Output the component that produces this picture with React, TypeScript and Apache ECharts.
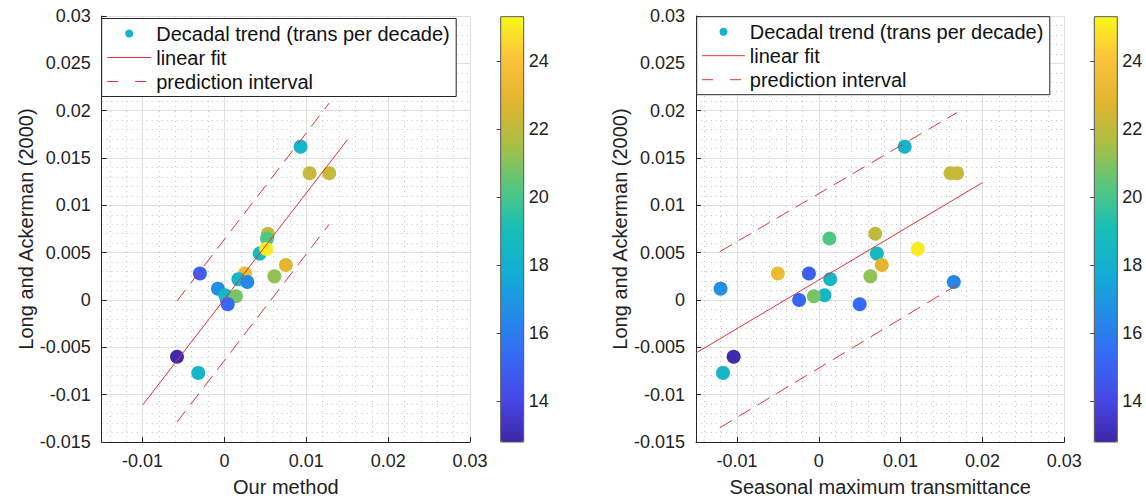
import React, { useEffect, useRef } from "react";
import * as echarts from "echarts";

// ---- data ----
const seriesNames = ["Decadal trend (trans per decade)", "linear fit", "prediction interval"];
const xNames = ["Our method", "Seasonal maximum transmittance"];
const yName = "Long and Ackerman (2000)";

// Long and Ackerman (2000) trends (y, shared by both panels)
const yLongAckerman = [0.0, 0.0028, 0.007, 0.0065, 0.0049, 0.0054, 0.0012, 0.0005, 0.0004, -0.00045, 0.0022, 0.0019, 0.0162, 0.0134, 0.0134, 0.0037, 0.0025, 0.0028, -0.006, -0.0077];
// x values, left panel (our method)
const xOurMethod = [0.0003, 0.0025, 0.0053, 0.0052, 0.0043, 0.0051, -0.0008, 0.0001, 0.0014, 0.0004, 0.0017, 0.0028, 0.0093, 0.0104, 0.0128, 0.0075, 0.0061, -0.003, -0.0058, -0.0032];
// x values, right panel (seasonal maximum transmittance)
const xSeasonalMax = [-0.0024, -0.005, 0.0069, 0.0013, 0.0071, 0.0121, -0.012, 0.0007, -0.0006, 0.005, 0.0014, 0.0165, 0.0105, 0.0161, 0.0169, 0.0077, 0.0063, -0.0012, -0.0104, -0.0117];
// colour values (colorbar)
const colorValue = [15.2, 23.3, 22.0, 20.2, 18.6, 25.0, 16.7, 18.4, 20.8, 15.3, 18.4, 16.4, 18.3, 22.2, 22.2, 22.9, 21.2, 14.9, 12.9, 18.4];

// linear fit & prediction interval end points, left panel
const fitOurX = [-0.01, 0.015];
const fitOurY = [-0.0111, 0.0169];
const piOurX = [-0.0058, 0.0128];
const piOurUpper = [-0.0001, 0.0208];
const piOurLower = [-0.0129, 0.008];

// right panel
const fitSeasX = [-0.015, 0.02];
const fitSeasY = [-0.0056, 0.0124];
const piSeasX = [-0.0121, 0.0169];
const piSeasUpper = [0.0051, 0.0198];
const piSeasLower = [-0.0135, 0.0016];

// colorbar
const cbMin = 12.8;
const cbMax = 25.3;
const cbTicks = [14, 16, 18, 20, 22, 24];
const parula = ["#3E26A8", "#4648E6", "#3669F6", "#228CE6", "#12AED4", "#18BFB6", "#55C77F", "#AABE45", "#E2B52E", "#FCC23B", "#F8F818"];

const FONT = "'Liberation Sans', Arial, Helvetica, sans-serif";
const RED = "#E0303C";
const AXIS = "#262626";

function pairs(xs: number[], ys: number[]) {
  return xs.map((x, i) => [x, ys[i]]);
}

export default function App() {
  const ref = useRef<HTMLDivElement>(null);
  useEffect(() => {
    if (!ref.current) return;
    const chart = echarts.init(ref.current, undefined, { renderer: "svg" });

    const plotLefts = [101.7, 696];
    const plotWidth = 368.3;
    const cbLefts = [500.7, 1094.3];

    const grids: any[] = [];
    const xAxes: any[] = [];
    const yAxes: any[] = [];
    const majorGrid = { show: true, lineStyle: { color: "#e0e0e0", width: 1 } };
    const minorGrid = { show: true, lineStyle: { color: "#c6c6c6", type: [1, 4], width: 1 } };
    [0, 1].forEach((i) => {
      grids.push({ left: plotLefts[i], top: 16, width: plotWidth, height: 426, outerBoundsMode: "none", containLabel: false });
      xAxes.push({
        type: "value",
        gridIndex: i,
        min: -0.015,
        max: 0.03,
        splitNumber: 5,
        name: xNames[i],
        nameLocation: "middle",
        nameGap: 35,
        nameTextStyle: { fontSize: 20, color: "#222", fontFamily: FONT },
        axisLine: { show: true, onZero: false, lineStyle: { color: AXIS, width: 1 } },
        axisTick: { show: true, inside: true, length: 5, lineStyle: { color: AXIS } },
        axisLabel: { fontSize: 18, color: "#222", margin: 10, showMinLabel: false, fontFamily: FONT },
        splitLine: majorGrid,
        minorTick: { show: false, splitNumber: 5 },
        minorSplitLine: minorGrid,
      });
      yAxes.push({
        type: "value",
        gridIndex: i,
        min: -0.015,
        max: 0.03,
        interval: 0.005,
        name: yName,
        nameLocation: "middle",
        nameGap: 55,
        nameRotate: 90,
        nameTextStyle: { fontSize: 20, color: "#222", fontFamily: FONT },
        axisLine: { show: true, onZero: false, lineStyle: { color: AXIS, width: 1 } },
        axisTick: { show: true, inside: true, length: 5, lineStyle: { color: AXIS } },
        axisLabel: { fontSize: 18, color: "#222", margin: 11, fontFamily: FONT },
        splitLine: majorGrid,
        minorTick: { show: false, splitNumber: 5 },
        minorSplitLine: minorGrid,
      });
    });
    // colorbar grids
    [0, 1].forEach((i) => {
      grids.push({
        left: cbLefts[i],
        top: 16.7,
        width: 23,
        height: 425.3,
        show: true,
        z: 10,
        borderColor: "#555",
        borderWidth: 1,
        backgroundColor: "transparent",
        outerBoundsMode: "none",
      });
      xAxes.push({ type: "value", gridIndex: 2 + i, show: false, min: 0, max: 1 });
      yAxes.push({
        type: "value",
        gridIndex: 2 + i,
        min: cbMin,
        max: cbMax,
        position: "right",
        z: 10,
        axisLine: { show: false },
        axisTick: { show: true, inside: true, length: 4, customValues: cbTicks, lineStyle: { color: "#444" } },
        axisLabel: { show: true, customValues: cbTicks, margin: 5, fontSize: 18, color: "#222", fontFamily: FONT },
        splitLine: { show: false },
      });
    });

    const panelX = [xOurMethod, xSeasonalMax];
    const fitX = [fitOurX, fitSeasX];
    const fitY = [fitOurY, fitSeasY];
    const piX = [piOurX, piSeasX];
    const piU = [piOurUpper, piSeasUpper];
    const piL = [piOurLower, piSeasLower];

    const series: any[] = [];
    [0, 1].forEach((i) => {
      series.push({
        type: "scatter",
        name: seriesNames[0],
        xAxisIndex: i,
        yAxisIndex: i,
        symbolSize: 14,
        data: panelX[i].map((x, k) => [x, yLongAckerman[k], colorValue[k]]),
        itemStyle: { opacity: 1 },
        z: 2,
        silent: true,
      });
      series.push({
        type: "line",
        name: seriesNames[1],
        xAxisIndex: i,
        yAxisIndex: i,
        symbol: "none",
        data: pairs(fitX[i], fitY[i]),
        lineStyle: { color: RED, width: 1 },
        itemStyle: { color: RED },
        z: 3,
        silent: true,
      });
      series.push({
        type: "line",
        name: seriesNames[2],
        xAxisIndex: i,
        yAxisIndex: i,
        symbol: "none",
        data: pairs(piX[i], piU[i]),
        lineStyle: { color: RED, width: 1, type: [14, 8] },
        itemStyle: { color: RED },
        z: 3,
        silent: true,
      });
      series.push({
        type: "line",
        name: seriesNames[2],
        xAxisIndex: i,
        yAxisIndex: i,
        symbol: "none",
        data: pairs(piX[i], piL[i]),
        lineStyle: { color: RED, width: 1, type: [14, 8] },
        itemStyle: { color: RED },
        z: 3,
        silent: true,
      });
    });

    const legendTops = [18.5, 16.7];
    const legendLefts = [101.7, 696.7];
    const legends = [0, 1].map((i) => ({
      show: true,
      orient: "vertical",
      left: legendLefts[i],
      top: legendTops[i],
      padding: [5, 6.5, 5, 5],
      itemGap: 4,
      itemWidth: i === 0 ? 44 : 42.6,
      itemHeight: 8,
      backgroundColor: "#fff",
      borderColor: AXIS,
      borderWidth: 1,
      borderRadius: 0,
      selectedMode: false,
      textStyle: { fontSize: 20, lineHeight: 20, color: "#111", fontFamily: FONT },
      data: [
        { name: seriesNames[0], icon: "circle", itemStyle: { color: "#12B2D0" } },
        { name: seriesNames[1], itemStyle: { opacity: 0 }, lineStyle: { color: RED, width: 1 } },
        { name: seriesNames[2], itemStyle: { opacity: 0 }, lineStyle: { color: RED, width: 1, type: [11, 17] } },
      ],
    }));

    const visualMaps = [0, 1].map((i) => ({
      type: "continuous",
      seriesIndex: i * 4,
      dimension: 2,
      min: cbMin,
      max: cbMax,
      calculable: false,
      hoverLink: false,
      orient: "vertical",
      left: cbLefts[i],
      top: 16.7,
      itemWidth: 23,
      itemHeight: 425.3,
      padding: 0,
      z: 1,
      inRange: { color: parula },
    }));

    chart.setOption({
      animation: false,
      backgroundColor: "#fff",
      textStyle: { fontFamily: FONT },
      grid: grids,
      xAxis: xAxes,
      yAxis: yAxes,
      legend: legends,
      visualMap: visualMaps,
      series,
    });
    return () => chart.dispose();
  }, []);
  return <div ref={ref} style={{ position: "fixed", left: 0, top: 0, width: 1146, height: 498 }} />;
}
